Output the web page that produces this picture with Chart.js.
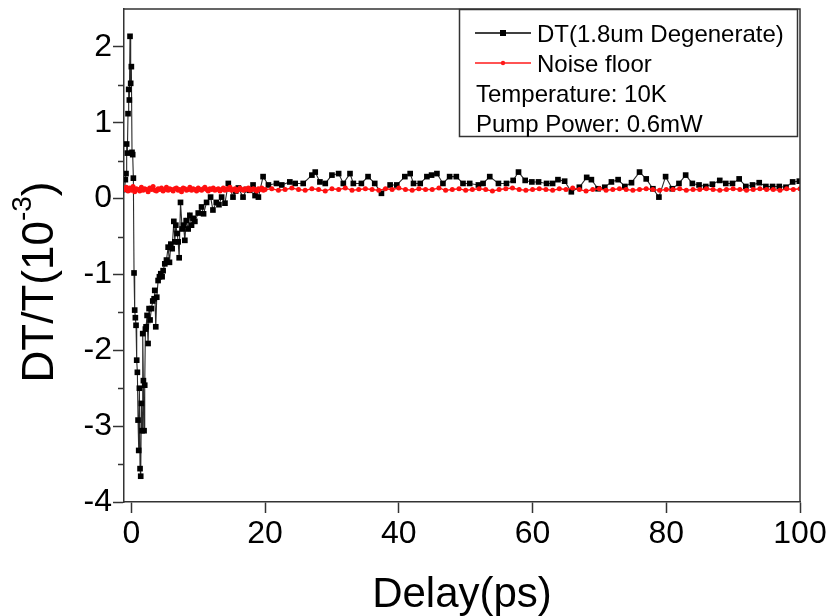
<!DOCTYPE html>
<html lang="en">
<head>
<meta charset="UTF-8">
<title>DT/T vs Delay</title>
<script src="https://cdn.jsdelivr.net/npm/chart.js"></script>
<style>
  html, body { margin: 0; padding: 0; background: #fff; }
  canvas { display: block; }
</style>
</head>
<body>
<canvas id="myChart" width="830" height="616"></canvas>

<script>
// pump-probe trace, delay in ps
const dtDelay = [
  -1.0, -0.9, -0.8, -0.7, -0.6, -0.5, -0.4, -0.3, -0.2, -0.1,
  0.0, 0.1, 0.2, 0.3, 0.4, 0.5, 0.6, 0.7, 0.8, 0.9,
  1.0, 1.1, 1.2, 1.3, 1.4, 1.5, 1.6, 1.7, 1.8, 1.9,
  2.0, 2.1, 2.2, 2.35, 2.5, 2.65, 2.8, 3.0, 3.2, 3.4,
  3.5, 3.65, 3.8, 4.0, 4.2, 4.4, 4.6, 4.75, 5.0, 5.25,
  5.5, 5.7, 5.9, 6.1, 6.35, 6.5, 6.65, 6.85, 7.0, 7.15,
  7.35, 7.6, 7.8, 8.0, 8.2, 8.5, 8.75, 9.0, 9.25, 9.5,
  10.0, 10.5, 10.8, 11.25, 11.85, 12.2, 12.7, 13.1, 13.5, 14.0,
  14.5, 15.2, 15.6, 16.0, 16.7, 17.2, 17.7, 18.2, 18.5, 19.0,
  19.7, 20.5, 21.7, 22.5, 23.7, 24.5, 25.7, 27.0, 27.5, 28.2,
  29.0, 30.0, 31.0, 31.7, 32.7, 33.2, 34.4, 35.4, 36.4, 37.4,
  38.7, 39.7, 40.9, 41.7, 42.2, 43.2, 44.2, 44.9, 45.7, 46.6,
  47.6, 48.6, 49.6, 50.6, 51.9, 52.6, 53.6, 54.9, 56.1, 57.1,
  57.9, 58.9, 59.9, 60.9, 62.1, 63.0, 63.8, 64.8, 65.8, 67.0,
  68.1, 68.8, 69.8, 70.8, 71.8, 72.8, 73.8, 74.8, 76.0, 77.0,
  78.0, 78.9, 79.9, 80.9, 81.9, 82.9, 83.9, 84.9, 85.9, 86.9,
  88.0, 88.9, 89.9, 90.9, 91.9, 92.9, 93.9, 94.9, 95.9, 96.9,
  97.9, 98.9, 99.9
];
const dtSignal = [
  0.12, 0.25, 0.33, 0.72, 0.60, 1.12, 1.44, 1.30, 2.14, 1.52,
  1.74, 0.61, 0.58, 0.27, -0.98, -1.47, -1.57, -1.67, -2.13, -2.29,
  -2.92, -3.32, -2.50, -3.56, -3.66, -2.70, -3.06, -1.78, -2.40, -3.06,
  -2.46, -1.72, -1.69, -1.54, -1.91, -1.45, -1.60, -1.45, -1.35, -1.32,
  -1.21, -1.69, -1.30, -1.08, -1.03, -0.99, -1.03, -0.95, -0.86, -0.81,
  -0.64, -0.84, -0.60, -0.66, -0.30, -0.57, -0.35, -0.46, -0.57, -0.78,
  -0.05, -0.40, -0.35, -0.55, -0.29, -0.40, -0.22, -0.35, -0.26, -0.30,
  -0.19, -0.11, -0.20, -0.05, 0.02, -0.15, -0.05, -0.08, 0.02, -0.06,
  0.20, 0.02, 0.10, 0.14, 0.02, 0.12, 0.11, 0.18, 0.04, 0.02,
  0.29, 0.18, 0.20, 0.18, 0.22, 0.20, 0.20, 0.31, 0.35, 0.22,
  0.20, 0.31, 0.33, 0.20, 0.33, 0.20, 0.20, 0.29, 0.20, 0.07,
  0.18, 0.18, 0.29, 0.33, 0.20, 0.20, 0.29, 0.31, 0.33, 0.20,
  0.29, 0.29, 0.20, 0.20, 0.18, 0.20, 0.29, 0.20, 0.20, 0.24,
  0.35, 0.24, 0.22, 0.22, 0.20, 0.20, 0.25, 0.23, 0.09, 0.15,
  0.28, 0.25, 0.13, 0.15, 0.22, 0.25, 0.16, 0.21, 0.35, 0.26,
  0.13, 0.02, 0.29, 0.13, 0.20, 0.31, 0.20, 0.18, 0.16, 0.19,
  0.24, 0.20, 0.20, 0.26, 0.16, 0.18, 0.21, 0.16, 0.16, 0.16,
  0.15, 0.22, 0.23
];

// noise floor
const noiseDelay = [
  -1, -0.75, -0.5, -0.25, 0, 0.25, 0.5, 0.75, 1, 1.25,
  1.5, 1.75, 2, 2.25, 2.5, 2.75, 3, 3.25, 3.5, 3.75,
  4, 4.25, 4.5, 4.75, 5, 5.25, 5.5, 5.75, 6, 6.25,
  6.5, 6.75, 7, 7.25, 7.5, 7.75, 8, 8.25, 8.5, 8.75,
  9, 9.25, 9.5, 9.75, 10, 10.25, 10.5, 10.75, 11, 11.25,
  11.5, 11.75, 12, 12.25, 12.5, 12.75, 13, 13.25, 13.5, 13.75,
  14, 14.25, 14.5, 14.75, 15, 15.25, 15.5, 15.75, 16, 16.25,
  16.5, 16.75, 17, 17.25, 17.5, 17.75, 18, 18.25, 18.5, 18.75,
  19, 19.25, 19.5, 19.75, 20,
  21, 22, 23, 24, 25, 26, 27, 28, 29, 30,
  31, 32, 33, 34, 35, 36, 37, 38, 39, 40,
  41, 42, 43, 44, 45, 46, 47, 48, 49, 50,
  51, 52, 53, 54, 55, 56, 57, 58, 59, 60,
  61, 62, 63, 64, 65, 66, 67, 68, 69, 70,
  71, 72, 73, 74, 75, 76, 77, 78, 79, 80,
  81, 82, 83, 84, 85, 86, 87, 88, 89, 90,
  91, 92, 93, 94, 95, 96, 97, 98, 99, 100
];
const noiseFloor = [
  0.12, 0.15, 0.10, 0.14, 0.11, 0.16, 0.09, 0.13, 0.12, 0.10,
  0.15, 0.11, 0.13, 0.12, 0.09, 0.14, 0.12, 0.16, 0.11, 0.10,
  0.13, 0.12, 0.14, 0.10, 0.12, 0.15, 0.11, 0.13, 0.12, 0.10,
  0.13, 0.14, 0.11, 0.12, 0.09, 0.14, 0.13, 0.11, 0.12, 0.15,
  0.11, 0.13, 0.12, 0.10, 0.14, 0.12, 0.11, 0.13, 0.15, 0.12,
  0.10, 0.13, 0.12, 0.14, 0.11, 0.12, 0.13, 0.10, 0.12, 0.14,
  0.11, 0.13, 0.12, 0.15, 0.11, 0.12, 0.13, 0.10, 0.12, 0.14,
  0.12, 0.11, 0.13, 0.12, 0.14, 0.11, 0.12, 0.13, 0.12, 0.10,
  0.13, 0.12, 0.14, 0.11, 0.12,
  0.13, 0.11, 0.12, 0.14, 0.12, 0.11, 0.13, 0.12, 0.10, 0.13,
  0.12, 0.14, 0.11, 0.12, 0.13, 0.12, 0.11, 0.13, 0.12, 0.14,
  0.12, 0.11, 0.13, 0.12, 0.12, 0.14, 0.11, 0.12, 0.13, 0.11,
  0.12, 0.13, 0.12, 0.10, 0.12, 0.13, 0.14, 0.12, 0.11, 0.12,
  0.13, 0.12, 0.11, 0.13, 0.12, 0.14, 0.12, 0.10, 0.12, 0.13,
  0.11, 0.12, 0.13, 0.12, 0.11, 0.12, 0.13, 0.12, 0.11, 0.12,
  0.12, 0.13, 0.11, 0.12, 0.12, 0.13, 0.12, 0.11, 0.12, 0.13,
  0.12, 0.11, 0.12, 0.13, 0.12, 0.12, 0.11, 0.13, 0.12, 0.13
];

const yMinorTicks = [-3.5, -2.5, -1.5, -0.5, 0.5, 1.5];
const legendLabels = ['DT(1.8um Degenerate)', 'Noise floor'];
const legendNotes = ['Temperature: 10K', 'Pump Power: 0.6mW'];

const FONT = "'Liberation Sans', Arial, sans-serif";

// frame, minor ticks, titles and legend box
const decorations = {
    id: 'decorations',
    afterDraw(chart) {
        const ctx = chart.ctx;
        const a = chart.chartArea;
        const yScale = chart.scales.y;
        ctx.save();
        ctx.strokeStyle = '#333';
        ctx.lineWidth = 1.5;
        ctx.beginPath();
        ctx.moveTo(a.left, a.top);
        ctx.lineTo(a.right, a.top);
        ctx.lineTo(a.right, a.bottom);
        yMinorTicks.forEach(v => {
            const py = Math.round(yScale.getPixelForValue(v)) + 0.5;
            ctx.moveTo(a.left, py);
            ctx.lineTo(a.left - 6, py);
        });
        ctx.stroke();

        // x title
        ctx.fillStyle = '#000';
        ctx.font = '42px ' + FONT;
        ctx.textAlign = 'center';
        ctx.textBaseline = 'alphabetic';
        ctx.fillText('Delay(ps)', (a.left + a.right) / 2, 607);

        // y title with superscript
        const main = 'DT/T(10', sup = '-3', close = ')';
        ctx.font = '44px ' + FONT;
        const w1 = ctx.measureText(main).width;
        const w3 = ctx.measureText(close).width;
        ctx.font = '28px ' + FONT;
        const w2 = ctx.measureText(sup).width;
        const total = w1 + w2 + w3;
        ctx.translate(53, 282 + total / 2);
        ctx.rotate(-Math.PI / 2);
        ctx.textAlign = 'left';
        ctx.font = '44px ' + FONT;
        ctx.fillText(main, 0, 0);
        ctx.font = '28px ' + FONT;
        ctx.fillText(sup, w1, -22);
        ctx.font = '44px ' + FONT;
        ctx.fillText(close, w1 + w2, 0);
        ctx.setTransform(1, 0, 0, 1, 0, 0);

        // legend
        ctx.fillStyle = '#fff';
        ctx.fillRect(459.5, 9.5, 338, 127);
        ctx.strokeStyle = '#333';
        ctx.lineWidth = 1.5;
        ctx.strokeRect(459.5, 9.5, 338, 127);

        const sw = [{c: '#000', y: 33, sq: true}, {c: '#ff1a1a', y: 63, sq: false}];
        sw.forEach((s, i) => {
            ctx.strokeStyle = s.c;
            ctx.lineWidth = 1.3;
            ctx.beginPath();
            ctx.moveTo(475, s.y);
            ctx.lineTo(531, s.y);
            ctx.stroke();
            ctx.fillStyle = s.c;
            if (s.sq) {
                ctx.fillRect(500, s.y - 3, 6, 6);
            } else {
                ctx.beginPath();
                ctx.arc(503, s.y, 2.2, 0, Math.PI * 2);
                ctx.fill();
            }
            ctx.fillStyle = '#000';
            ctx.font = '24px ' + FONT;
            ctx.fillText(legendLabels[i], 537, s.y + 9);
        });
        ctx.fillText(legendNotes[0], 476, 102);
        ctx.fillText(legendNotes[1], 476, 132);
        ctx.restore();
    }
};

const dtPoints = dtDelay.map((x, i) => ({x: x, y: dtSignal[i]}));
const noisePoints = noiseDelay.map((x, i) => ({x: x, y: noiseFloor[i]}));

const ctx = document.getElementById('myChart').getContext('2d');
const myChart = new Chart(ctx, {
    type: 'line',
    data: {
        datasets: [{
            label: legendLabels[0],
            data: dtPoints,
            borderColor: '#2a2a2a',
            borderWidth: 1.1,
            pointStyle: 'rect',
            pointRadius: 4,
            pointBorderWidth: 0,
            pointBackgroundColor: '#000',
            tension: 0,
            order: 2
        }, {
            label: legendLabels[1],
            data: noisePoints,
            borderColor: '#ff1010',
            borderWidth: 1.3,
            pointStyle: 'circle',
            pointRadius: 2.5,
            pointBorderWidth: 0,
            pointBackgroundColor: '#ff1010',
            tension: 0,
            order: 1
        }]
    },
    options: {
        responsive: false,
        animation: false,
        devicePixelRatio: 1,
        layout: { padding: { left: 0, right: 30, top: 9, bottom: 0 } },
        plugins: {
            legend: { display: false },
            tooltip: { enabled: false }
        },
        scales: {
            x: {
                type: 'linear',
                min: -1.1,
                max: 100,
                afterFit(scale) {
                    scale.height = 114;
                    scale.paddingLeft = 0;
                    scale.paddingRight = 0;
                },
                ticks: {
                    stepSize: 20,
                    includeBounds: false,
                    autoSkip: false,
                    maxRotation: 0,
                    padding: 2,
                    color: '#000',
                    font: { family: FONT, size: 32 }
                },
                grid: {
                    drawOnChartArea: false,
                    drawTicks: true,
                    tickLength: 11,
                    tickColor: '#333',
                    tickWidth: 1.5
                },
                border: { display: true, color: '#333', width: 1.5 }
            },
            y: {
                type: 'linear',
                min: -4,
                max: 2.5,
                afterFit(scale) {
                    scale.width = 124;
                    scale.paddingTop = 0;
                    scale.paddingBottom = 0;
                },
                ticks: {
                    stepSize: 1,
                    includeBounds: false,
                    padding: 1,
                    color: '#000',
                    font: { family: FONT, size: 32 }
                },
                grid: {
                    drawOnChartArea: false,
                    drawTicks: true,
                    tickLength: 11,
                    tickColor: '#333',
                    tickWidth: 1.5
                },
                border: { display: true, color: '#333', width: 1.5 }
            }
        }
    },
    plugins: [decorations]
});
</script>
</body>
</html>
